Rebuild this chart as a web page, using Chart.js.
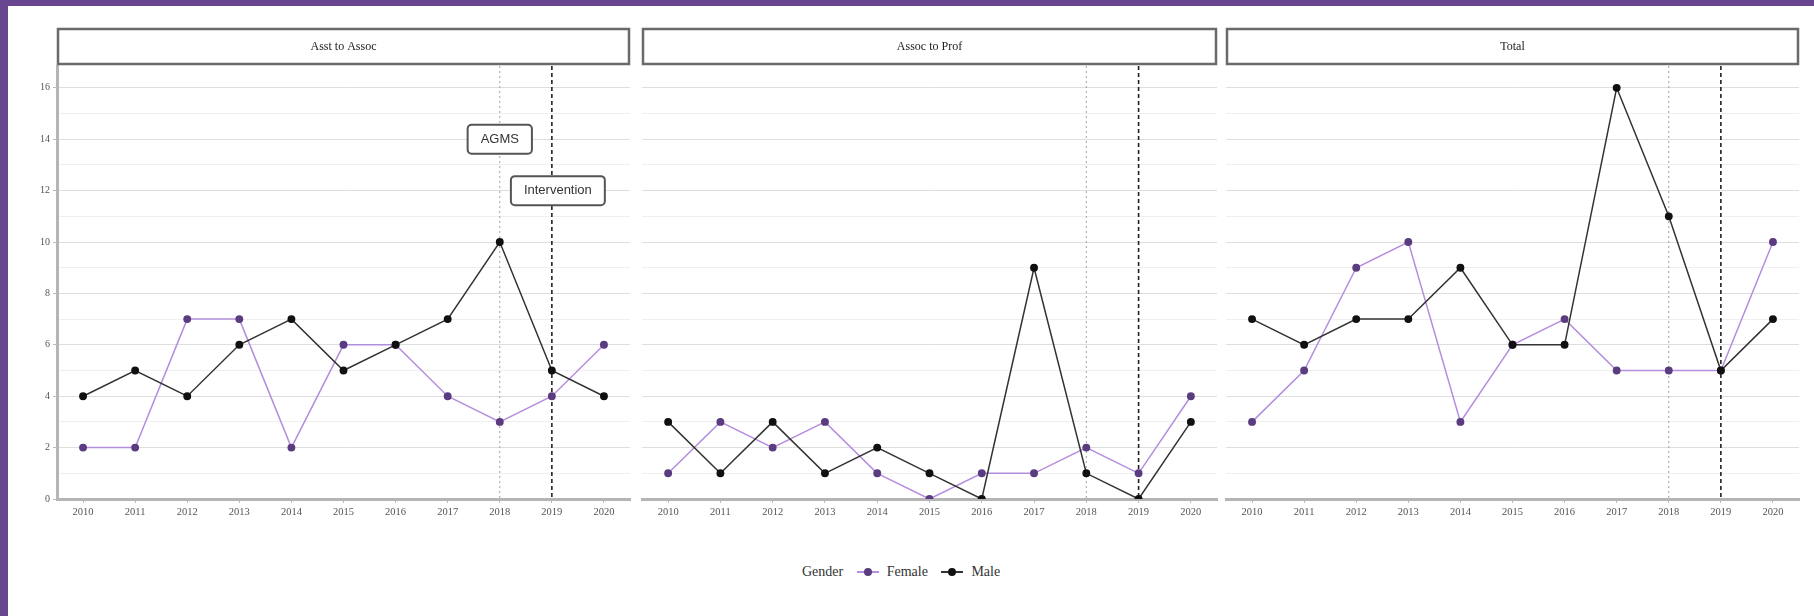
<!DOCTYPE html>
<html>
<head>
<meta charset="utf-8">
<script src="https://cdn.jsdelivr.net/npm/chart.js@4.4.0/dist/chart.umd.min.js"></script>
<style>
  body { margin:0; width:1814px; height:616px; background:#fff; position:relative; overflow:hidden; font-family:"Liberation Serif", serif; }
  #topbar { position:absolute; left:0; top:0; width:1814px; height:6px; background:#684690; }
  #leftbar { position:absolute; left:0; top:0; width:8px; height:616px; background:#684690; }
  canvas { position:absolute; top:0; }
  #legend { position:absolute; top:563px; left:802px; font-size:14px; color:#333; white-space:nowrap; }
  #legend span { display:inline-block; vertical-align:middle; }
  .mk { position:relative; width:22px; height:10px; margin:0 8px 0 10px; }
  .mk i { position:absolute; left:0; top:4px; width:22px; height:2px; }
  .mk b { position:absolute; left:7px; top:1px; width:8px; height:8px; border-radius:50%; }
</style>
</head>
<body>
<div id="topbar"></div>
<div id="leftbar"></div>
<canvas id="p1" width="636" height="530" style="left:0px"></canvas>
<canvas id="p2" width="587" height="530" style="left:636px"></canvas>
<canvas id="p3" width="594" height="530" style="left:1220px"></canvas>
<div id="legend">
  <span>Gender</span>
  <span class="mk"><i style="background:#b48ede"></i><b style="background:#5b3c80"></b></span><span>Female</span>
  <span class="mk"><i style="background:#333"></i><b style="background:#111"></b></span><span>Male</span>
</div>
<script>
// years on the x axis
const years = ['2010','2011','2012','2013','2014','2015','2016','2017','2018','2019','2020'];
// panel titles
const panelTitles = ['Asst to Assoc', 'Assoc to Prof', 'Total'];
// promotions per year, female / male
const femaleAsstAssoc = [2, 2, 7, 7, 2, 6, 6, 4, 3, 4, 6];
const maleAsstAssoc   = [4, 5, 4, 6, 7, 5, 6, 7, 10, 5, 4];
const femaleAssocProf = [1, 3, 2, 3, 1, 0, 1, 1, 2, 1, 4];
const maleAssocProf   = [3, 1, 3, 1, 2, 1, 0, 9, 1, 0, 3];
const femaleTotal     = [3, 5, 9, 10, 3, 6, 7, 5, 5, 5, 10];
const maleTotal       = [7, 6, 7, 7, 9, 6, 6, 16, 11, 5, 7];
// event markers
const eventYears = ['2018', '2019'];
const eventLabels = [{x:'2018', y:14, text:'AGMS'}, {x:'2019', y:12, text:'Intervention'}];

const femaleLine = '#b48ede', femalePt = '#5b3c80';
const maleLine = '#333333', malePt = '#111111';

// strip box + title above each panel
const stripPlugin = {
  id: 'strip',
  afterDraw(chart, args, opts) {
    const ctx = chart.ctx, a = chart.chartArea;
    ctx.save();
    ctx.fillStyle = '#fff';
    ctx.strokeStyle = '#6a6a6a';
    ctx.lineWidth = 2.5;
    ctx.beginPath();
    ctx.rect(a.left + 1, 29, a.right - a.left - 2, 35);
    ctx.fill();
    ctx.stroke();
    ctx.fillStyle = '#222';
    ctx.font = '12px "Liberation Serif"';
    ctx.textAlign = 'center';
    ctx.textBaseline = 'middle';
    ctx.fillText(opts.title, (a.left + a.right) / 2, 47);
    ctx.restore();
  }
};

// dotted / dashed vertical event lines
const eventPlugin = {
  id: 'events',
  beforeDatasetsDraw(chart) {
    const ctx = chart.ctx, a = chart.chartArea, x = chart.scales.x;
    ctx.save();
    eventYears.forEach((yr, i) => {
      const px = x.getPixelForValue(years.indexOf(yr));
      ctx.beginPath();
      if (i === 0) { ctx.strokeStyle = '#a0a0a0'; ctx.lineWidth = 1; ctx.setLineDash([2, 3]); }
      else { ctx.strokeStyle = '#222'; ctx.lineWidth = 1.6; ctx.setLineDash([4, 3]); }
      ctx.moveTo(px, a.top);
      ctx.lineTo(px, a.bottom);
      ctx.stroke();
    });
    ctx.restore();
  }
};

// labelled boxes in the first panel
const labelPlugin = {
  id: 'evlabels',
  afterDatasetsDraw(chart, args, opts) {
    if (!opts.show) return;
    const ctx = chart.ctx, x = chart.scales.x, y = chart.scales.y;
    ctx.save();
    ctx.font = '13px "Liberation Sans"';
    ctx.textAlign = 'center';
    ctx.textBaseline = 'middle';
    eventLabels.forEach(l => {
      const cx = x.getPixelForValue(years.indexOf(l.x)) + (l.text === 'Intervention' ? 6 : 0);
      const cy = y.getPixelForValue(l.y);
      const w = ctx.measureText(l.text).width + 26, h = 29;
      ctx.beginPath();
      ctx.roundRect(cx - w / 2, cy - h / 2, w, h, 4);
      ctx.fillStyle = '#fff';
      ctx.fill();
      ctx.strokeStyle = '#555';
      ctx.lineWidth = 2;
      ctx.stroke();
      ctx.fillStyle = '#333';
      ctx.fillText(l.text, cx, cy);
    });
    ctx.restore();
  }
};

function makePanel(id, title, female, male, opts) {
  const ctx = document.getElementById(id).getContext('2d');
  return new Chart(ctx, {
    type: 'line',
    data: {
      labels: years,
      datasets: [
        { label: 'Male', data: male, borderColor: maleLine, backgroundColor: malePt,
          pointBackgroundColor: malePt, pointBorderColor: malePt, borderWidth: 1.5, pointRadius: 3.2 },
        { label: 'Female', data: female, borderColor: femaleLine, backgroundColor: femalePt,
          pointBackgroundColor: femalePt, pointBorderColor: femalePt, borderWidth: 1.5, pointRadius: 3.2 }
      ]
    },
    options: {
      responsive: false,
      animation: false,
      layout: { padding: { top: 66, left: opts.padL, right: opts.padR, bottom: 0 } },
      plugins: {
        legend: { display: false },
        tooltip: { enabled: false },
        strip: { title: title },
        evlabels: { show: opts.labels }
      },
      scales: {
        x: {
          offset: true,
          afterFit: s => { s.height = 31; },
          grid: { drawOnChartArea: false, tickLength: 4, color: '#bbb' },
          border: { color: '#b5b5b5', width: 3 },
          ticks: { color: '#555', font: { family: 'Liberation Serif', size: 10.5 }, padding: 3, maxRotation: 0 }
        },
        y: {
          min: 0, max: 16.85,
          afterBuildTicks: s => { s.ticks = s.ticks.filter(t => Number.isInteger(t.value)); },
          afterFit: s => { s.width = opts.yWidth; },
          grid: {
            color: c => (c.tick && c.tick.value % 2 === 0) ? '#dedede' : '#efefef',
            lineWidth: 1,
            tickLength: opts.yTicks ? 4 : 0,
            tickColor: c => (c.tick && c.tick.value % 2 === 0) ? '#bbb' : 'rgba(0,0,0,0)'
          },
          border: { display: opts.yTicks, color: '#b5b5b5', width: 3 },
          ticks: {
            display: opts.yTicks,
            stepSize: 1,
            color: '#555',
            padding: 3,
            font: { family: 'Liberation Serif', size: 10 },
            callback: v => (v % 2 === 0 ? v : '')
          }
        }
      }
    },
    plugins: [stripPlugin, eventPlugin, labelPlugin]
  });
}

makePanel('p1', panelTitles[0], femaleAsstAssoc, maleAsstAssoc, { padL: 0, padR: 6, yWidth: 57, yTicks: true, labels: true });
makePanel('p2', panelTitles[1], femaleAssocProf, maleAssocProf, { padL: 6, padR: 6, yWidth: 0, yTicks: false, labels: false });
makePanel('p3', panelTitles[2], femaleTotal, maleTotal, { padL: 6, padR: 15, yWidth: 0, yTicks: false, labels: false });
</script>
</body>
</html>
